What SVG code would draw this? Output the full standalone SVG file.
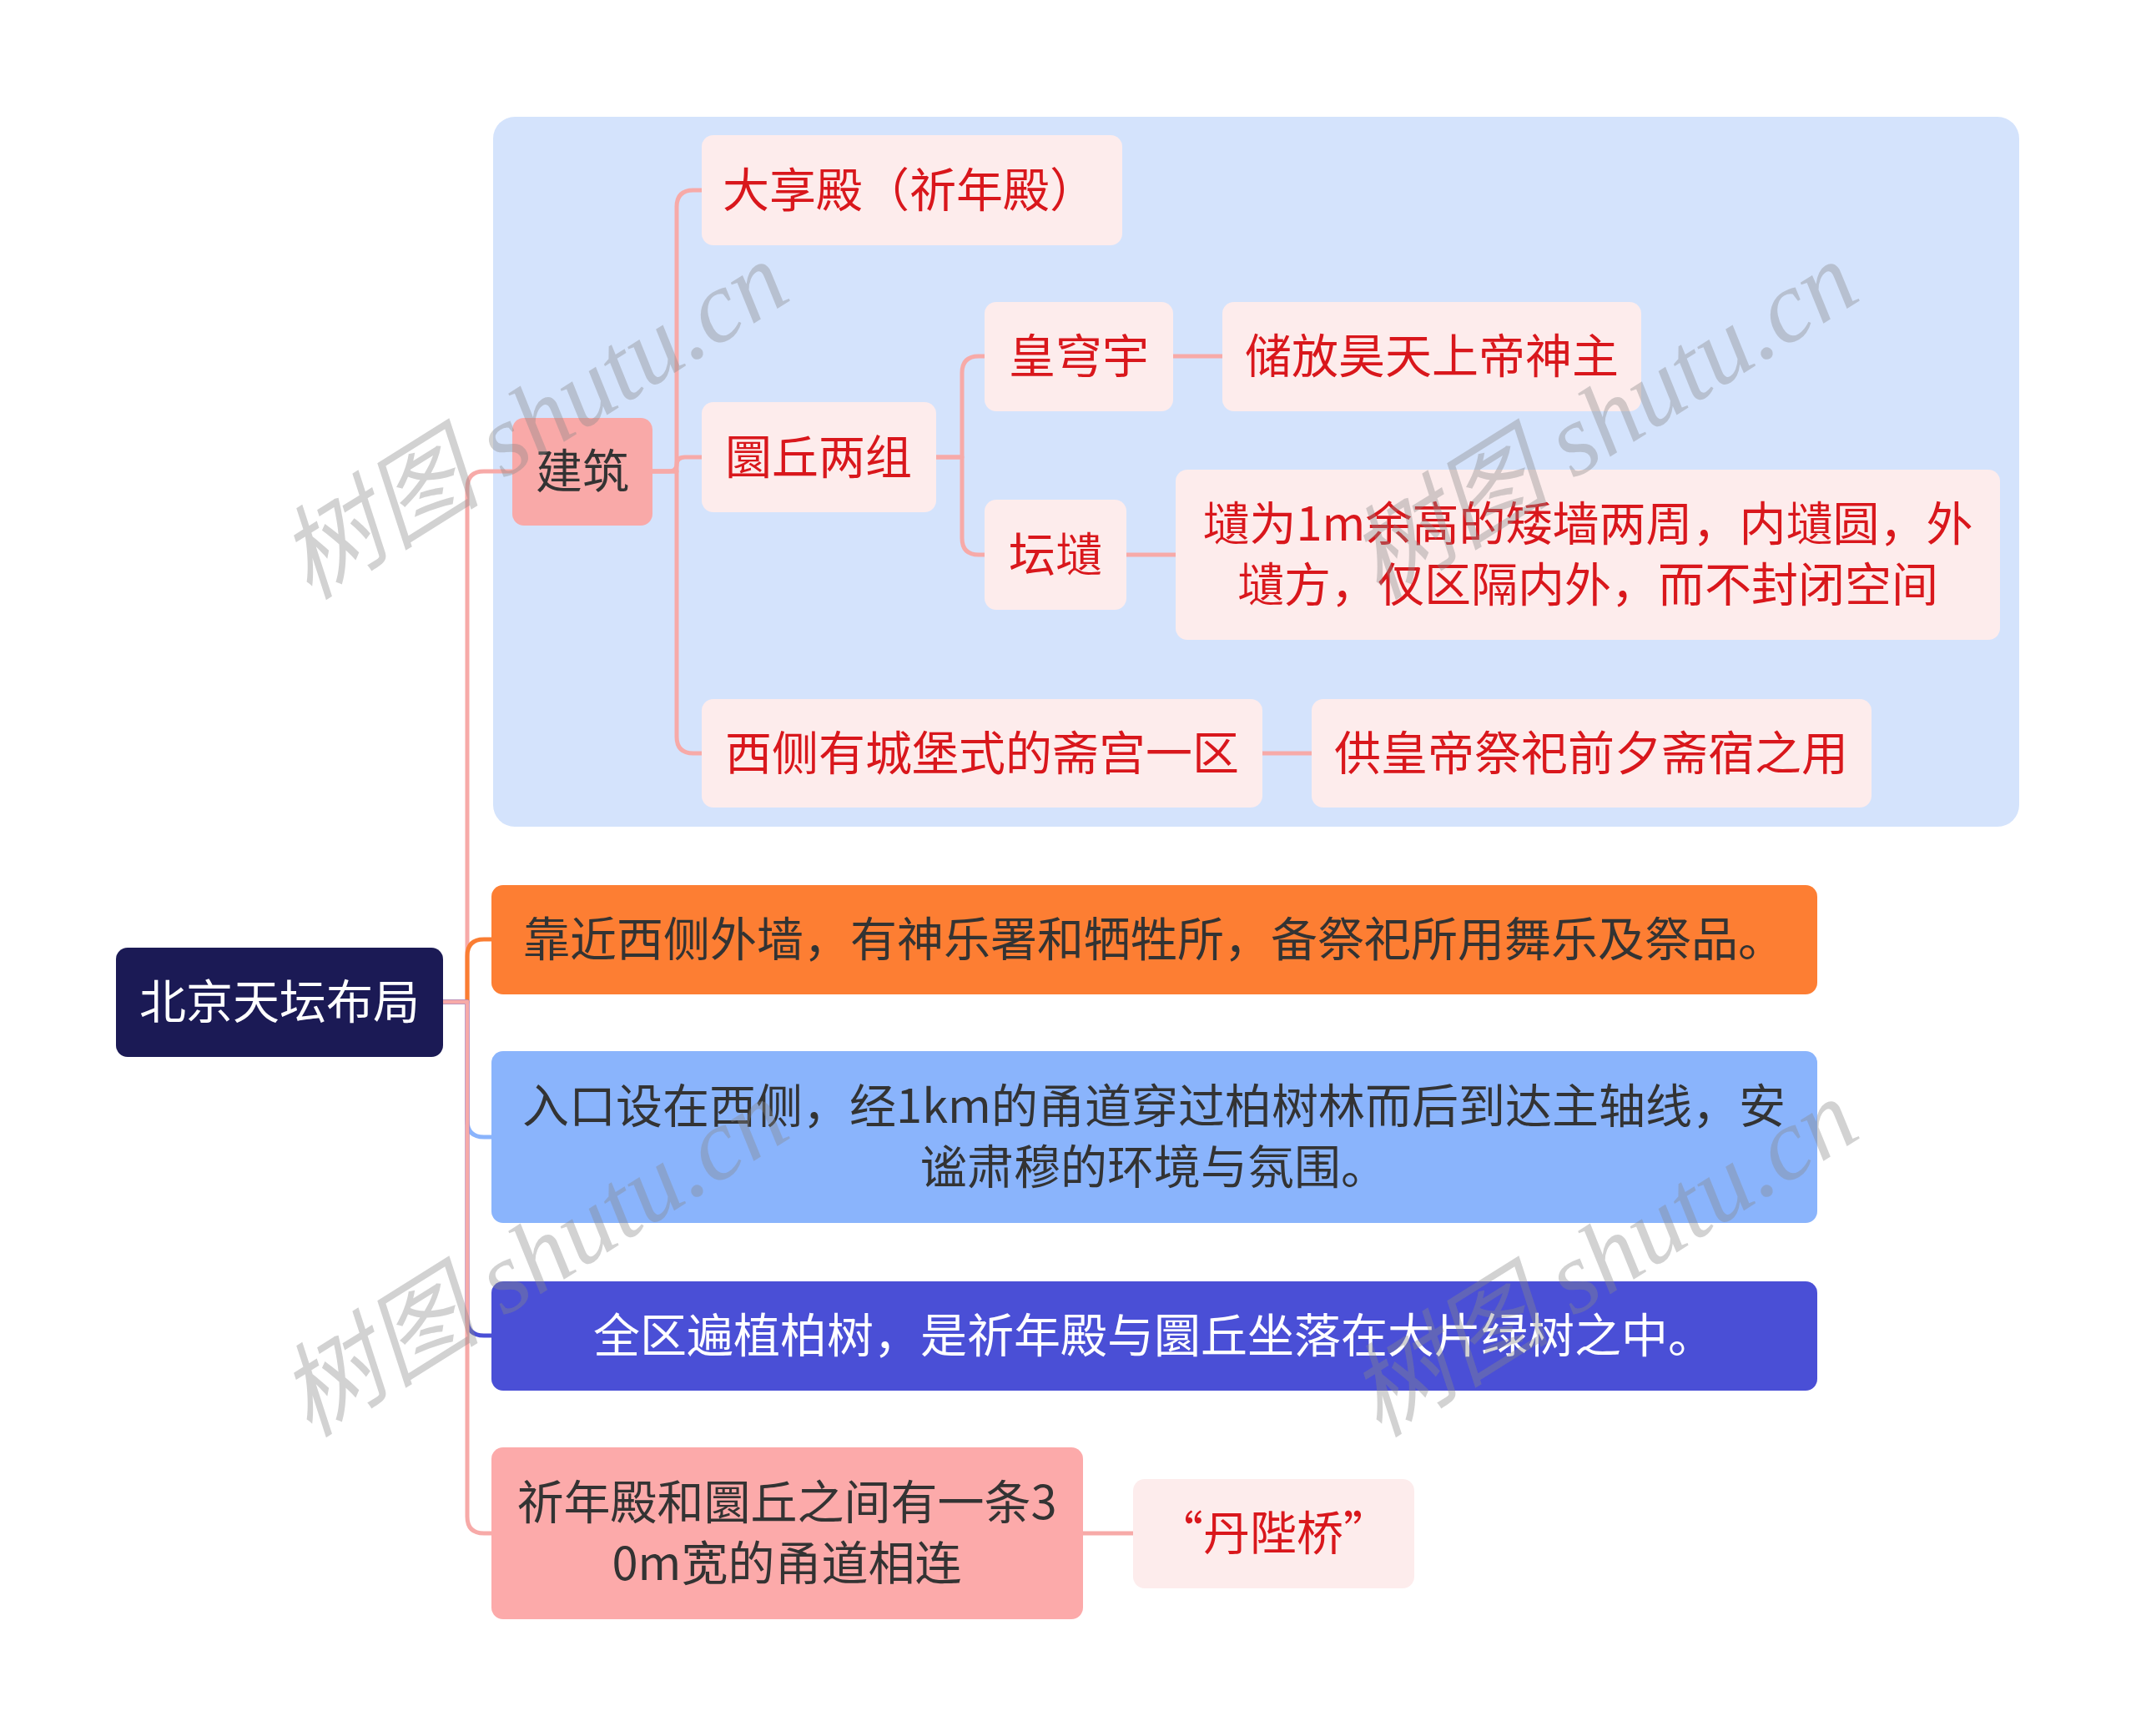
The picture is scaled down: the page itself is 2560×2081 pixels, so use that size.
<svg xmlns="http://www.w3.org/2000/svg" width="2560" height="2081" viewBox="0 0 2560 2081">
<style>
.t{font-family:"Noto Sans CJK SC","Noto Sans",sans-serif;font-size:56px;text-anchor:middle}
.red{fill:#d9171c}
.dark{fill:#333333}
.white{fill:#ffffff}
.lp{fill:#fdecec}
.c{fill:none;stroke-width:5;stroke-linecap:round;stroke-linejoin:round}
.pk{stroke:#f7aaa8}
.wm{font-family:"Liberation Serif","Noto Sans CJK SC",serif;font-style:italic;font-size:122px;fill:#8a8a8a;fill-opacity:0.38}
</style>
<rect width="2560" height="2081" fill="#ffffff"/>
<rect id="panel" x="591" y="140" width="1829" height="851" rx="26" fill="#d4e3fc"/>
<g id="connectors">
<path class="c pk" d="M531,1201 H560 V585 Q560,565 580,565 H614"/>
<path class="c" stroke="#fa7d32" d="M531,1201 H560 V1146 Q560,1126 580,1126 H589"/>
<path class="c" stroke="#8ab4fc" d="M531,1201 H560 V1343 Q560,1363 580,1363 H589"/>
<path class="c" stroke="#4a4fd6" d="M531,1201 H560 V1581 Q560,1601 580,1601 H589"/>
<path class="c pk" d="M531,1201 H560 V1818 Q560,1838 580,1838 H589"/>
<path class="c pk" d="M782,565 H811 V248 Q811,228 831,228 H841"/>
<path class="c pk" d="M782,565 H801 Q811,565 811,557 Q811,548 821,548 H841"/>
<path class="c pk" d="M782,565 H811 V883 Q811,903 831,903 H841"/>
<path class="c pk" d="M1122,548 H1153 V447 Q1153,427 1173,427 H1180"/>
<path class="c pk" d="M1122,548 H1153 V645 Q1153,665 1173,665 H1180"/>
<path class="c pk" d="M1406,427 H1465"/>
<path class="c pk" d="M1350,665 H1409"/>
<path class="c pk" d="M1513,903 H1572"/>
<path class="c pk" d="M1298,1838 H1358"/>
</g>
<g id="root"><rect x="139" y="1136" width="392" height="131" rx="14" fill="#1b1a55"/><text class="t white" x="335" y="1221">北京天坛布局</text></g>
<g id="n-jianzhu"><rect x="614" y="501" width="168" height="129" rx="14" fill="#f9a9a8"/><text class="t dark" x="698" y="585">建筑</text></g>
<g id="n-daxiang"><rect class="lp" x="841" y="162" width="504" height="132" rx="14"/><text class="t red" x="1090" y="248">大享殿（祈年殿）</text></g>
<g id="n-yuanqiu"><rect class="lp" x="841" y="482" width="281" height="132" rx="14"/><text class="t red" x="981" y="568">圜丘两组</text></g>
<g id="n-huangqiong"><rect class="lp" x="1180" y="362" width="226" height="131" rx="14"/><text class="t red" x="1293" y="447">皇穹宇</text></g>
<g id="n-chufang"><rect class="lp" x="1465" y="362" width="502" height="131" rx="14"/><text class="t red" x="1716" y="447">储放昊天上帝神主</text></g>
<g id="n-tanwei"><rect class="lp" x="1180" y="599" width="170" height="132" rx="14"/><text class="t red" x="1265" y="685">坛壝</text></g>
<g id="n-weiwei"><rect class="lp" x="1409" y="563" width="988" height="204" rx="14"/><text class="t red" x="1903" y="648">壝为1m余高的矮墙两周，内壝圆，外</text><text class="t red" x="1903" y="721">壝方，仅区隔内外，而不封闭空间</text></g>
<g id="n-xice"><rect class="lp" x="841" y="838" width="672" height="130" rx="14"/><text class="t red" x="1177" y="923">西侧有城堡式的斋宫一区</text></g>
<g id="n-gong"><rect class="lp" x="1572" y="838" width="671" height="130" rx="14"/><text class="t red" x="1907" y="923">供皇帝祭祀前夕斋宿之用</text></g>
<g id="n-orange"><rect x="589" y="1061" width="1589" height="131" rx="14" fill="#fd7e33"/><text class="t dark" x="1383" y="1146">靠近西侧外墙，有神乐署和牺牲所，备祭祀所用舞乐及祭品。</text></g>
<g id="n-blue"><rect x="589" y="1260" width="1589" height="206" rx="14" fill="#8ab4fc"/><text class="t dark" x="1383" y="1346">入口设在西侧，经1km的甬道穿过柏树林而后到达主轴线，安</text><text class="t dark" x="1383" y="1419">谧肃穆的环境与氛围。</text></g>
<g id="n-indigo"><rect x="589" y="1536" width="1589" height="131" rx="14" fill="#4a4fd6"/><text class="t white" x="1383" y="1621">全区遍植柏树，是祈年殿与圜丘坐落在大片绿树之中。</text></g>
<g id="n-pink"><rect x="589" y="1735" width="709" height="206" rx="14" fill="#fcaaaa"/><text class="t dark" x="943" y="1821">祈年殿和圜丘之间有一条3</text><text class="t dark" x="943" y="1894">0m宽的甬道相连</text></g>
<g id="n-danbi"><rect class="lp" x="1358" y="1773" width="337" height="131" rx="14"/><text class="t red" x="1526" y="1858">“丹陛桥”</text></g>
<g id="watermarks">
<text class="wm" transform="translate(640,505) rotate(-32)" text-anchor="middle" y="40">树图 shutu.cn</text>
<text class="wm" transform="translate(1922,505) rotate(-32)" text-anchor="middle" y="40">树图 shutu.cn</text>
<text class="wm" transform="translate(640,1509) rotate(-32)" text-anchor="middle" y="40">树图 shutu.cn</text>
<text class="wm" transform="translate(1922,1509) rotate(-32)" text-anchor="middle" y="40">树图 shutu.cn</text>
</g>
</svg>
